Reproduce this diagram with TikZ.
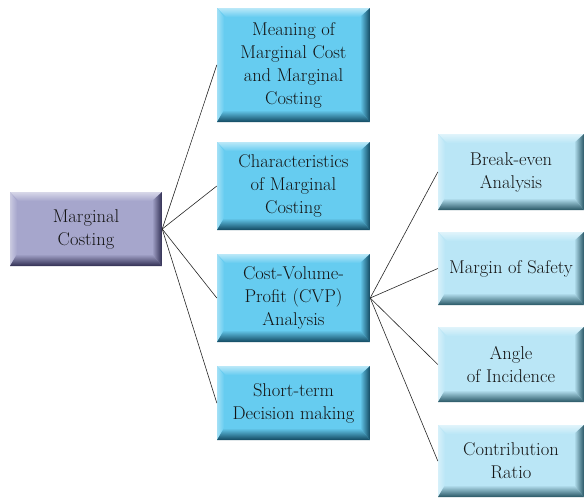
\documentclass[tikz,border=0pt]{standalone}
\usepackage{fontspec}
\definecolor{lav}{RGB}{166,166,204}
\definecolor{lavdark}{RGB}{48,46,82}
\definecolor{bluemid}{RGB}{102,204,240}
\definecolor{bluedark}{RGB}{18,72,96}
\definecolor{bluelight}{RGB}{186,230,246}
\definecolor{bluelightdark}{RGB}{40,86,100}
\definecolor{txt}{RGB}{20,20,20}
\tikzset{
  bevelbox/.style n args={2}{
    draw=none, fill=#1, text=txt, align=center, inner sep=0pt,
    font=\fontsize{18.5}{23}\selectfont,
    path picture={
      \path (path picture bounding box.south west) coordinate (sw)
            (path picture bounding box.north east) coordinate (ne);
      \shade[top color=white!55!#1, bottom color=#1]
        (sw|-ne) -- (ne) -- ([shift={(-9pt,-9pt)}]ne) -- ([shift={(9pt,-9pt)}]sw|-ne) -- cycle;
      \shade[left color=white!40!#1, right color=#1]
        (sw) -- (sw|-ne) -- ([shift={(7pt,-9pt)}]sw|-ne) -- ([shift={(7pt,11pt)}]sw) -- cycle;
      \shade[left color=#1, right color=#2]
        (ne) -- (ne|-sw) -- ([shift={(-10pt,12pt)}]ne|-sw) -- ([shift={(-10pt,-9pt)}]ne) -- cycle;
      \shade[top color=#1, bottom color=#2]
        (sw) -- (ne|-sw) -- ([shift={(-10pt,12pt)}]ne|-sw) -- ([shift={(7pt,12pt)}]sw) -- cycle;
    }
  },
  lavbox/.style={bevelbox={lav}{lavdark}, minimum width=152pt},
  midbox/.style={bevelbox={bluemid}{bluedark}, minimum width=153pt},
  litbox/.style={bevelbox={bluelight}{bluelightdark}, minimum width=146pt},
  link/.style={draw=black!85, line width=0.6pt}
}
\begin{document}
\begin{tikzpicture}[x=1pt,y=-1pt]
\useasboundingbox (0,0) rectangle (584,498);
\node[lavbox, minimum height=74pt] (mc) at (86,229) {Marginal\\Costing};
\node[midbox, minimum height=114pt] (m1) at (293.5,65) {Meaning of\\Marginal Cost\\and Marginal\\Costing};
\node[midbox, minimum height=88pt] (m2) at (293.5,186) {Characteristics\\of Marginal\\Costing};
\node[midbox, minimum height=88pt] (m3) at (293.5,298) {Cost-Volume-\\Profit (CVP)\\Analysis};
\node[midbox, minimum height=74pt] (m4) at (293.5,403) {Short-term\\Decision making};
\node[litbox, minimum height=76pt] (r1) at (511,172) {Break-even\\Analysis};
\node[litbox, minimum height=73pt] (r2) at (511,268.5) {Margin of Safety};
\node[litbox, minimum height=75pt] (r3) at (511,364.5) {Angle\\of Incidence};
\node[litbox, minimum height=72pt] (r4) at (511,461) {Contribution\\Ratio};
\foreach \t in {m1,m2,m3,m4} \draw[link] (mc.east) -- (\t.west);
\foreach \t in {r1,r2,r3,r4} \draw[link] (m3.east) -- (\t.west);
\end{tikzpicture}
\end{document}
